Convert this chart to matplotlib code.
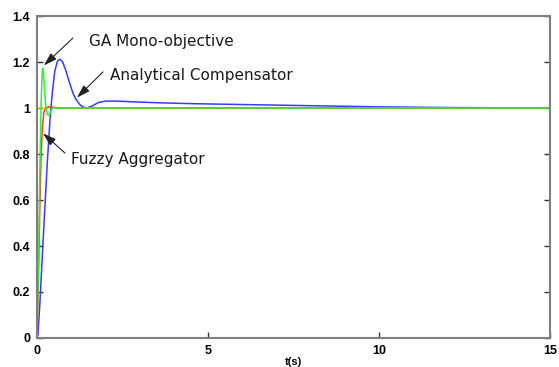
import matplotlib
matplotlib.use("Agg")
import matplotlib.pyplot as plt

# Data
t_blue = [0, 0.03, 0.08, 0.15, 0.22, 0.3, 0.38, 0.45, 0.52, 0.6, 0.67, 0.75, 0.85, 0.95, 1.05, 1.15,
          1.25, 1.35, 1.45, 1.6, 1.8, 2.0, 2.3, 2.8, 3.5, 4.5, 6.0, 8.0, 10.0, 12.0, 15.0]
v_blue = [0, 0.02, 0.14, 0.34, 0.54, 0.76, 0.95, 1.07, 1.16, 1.205, 1.212, 1.2, 1.16, 1.11, 1.065, 1.035,
          1.015, 1.004, 1.0, 1.008, 1.024, 1.03, 1.03, 1.027, 1.023, 1.019, 1.015, 1.01, 1.005, 1.002, 1.0]

t_green = [0, 0.04, 0.08, 0.12, 0.15, 0.17, 0.19, 0.22, 0.26, 0.3, 0.35, 0.4, 0.45, 0.5, 0.6, 15.0]
v_green = [0, 0.3, 0.7, 1.02, 1.15, 1.173, 1.15, 1.08, 1.0, 0.972, 0.968, 0.985, 0.998, 1.002, 1.0, 1.0]

t_red = [0, 0.04, 0.08, 0.12, 0.16, 0.2, 0.25, 0.35, 0.5, 0.6, 15.0]
v_red = [0, 0.25, 0.55, 0.8, 0.92, 0.98, 1.0, 1.005, 1.003, 1.0, 1.0]

t_ref = [0, 15.0]
v_ref = [1.0, 1.0]

x_ticks = [0, 5, 10, 15]
x_labels = ["0", "5", "10", "15"]
y_ticks = [0, 0.2, 0.4, 0.6, 0.8, 1.0, 1.2, 1.4]
y_labels = ["0", "0.2", "0.4", "0.6", "0.8", "1", "1.2", "1.4"]

labels = ["GA Mono-objective", "Analytical Compensator", "Fuzzy Aggregator"]
label_pos = [(1.52, 1.29), (2.13, 1.143), (1.0, 0.778)]
arrow_from = [(1.05, 1.304), (1.93, 1.157), (0.82, 0.804)]
arrow_to = [(0.2, 1.185), (1.17, 1.045), (0.175, 0.89)]

fig = plt.figure(figsize=(5.59, 3.67), dpi=100)
ax = fig.add_axes([37/559, 1 - 338/367, (550-37)/559, (338-16)/367])

ax.plot(t_ref, v_ref, color="#e6e600", lw=1.1)
ax.plot(t_blue, v_blue, color="#3a3aff", lw=1.1)
ax.plot(t_red, v_red, color="#ff3a3a", lw=1.1)
ax.plot(t_green, v_green, color="#33ee33", lw=1.1)

ax.set_xlim(0, 15)
ax.set_ylim(0, 1.4)
ax.set_xticks(x_ticks)
ax.set_xticklabels(x_labels)
ax.set_yticks(y_ticks)
ax.set_yticklabels(y_labels)
ax.tick_params(direction="in", length=4, width=1, color="#333333", top=False, right=True,
               labelsize=9)
ax.tick_params(axis="x", pad=5)
ax.tick_params(axis="y", pad=5)
for lbl in ax.get_xticklabels() + ax.get_yticklabels():
    lbl.set_fontfamily("Liberation Sans")
    lbl.set_fontweight("bold")
for s in ax.spines.values():
    s.set_color("#7f7f7f")
    s.set_linewidth(1.5)

ax.set_xlabel("t(s)", fontsize=8, fontweight="bold", family="Liberation Sans", labelpad=0)

for txt, pos in zip(labels, label_pos):
    ax.text(pos[0], pos[1], txt, family="DejaVu Sans", fontsize=11, color="#1a1a1a",
            ha="left", va="center")
for a, b in zip(arrow_from, arrow_to):
    ax.annotate("", xy=b, xytext=a,
                arrowprops=dict(arrowstyle="-|>,head_length=0.8,head_width=0.25",
                                color="#222222", lw=0.8, shrinkA=0, shrinkB=0))

fig.savefig("out.png", dpi=100)
